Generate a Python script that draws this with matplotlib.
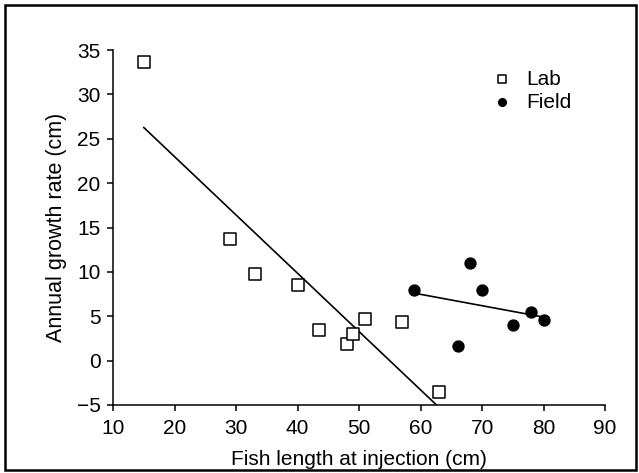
import numpy as np
import matplotlib.pyplot as plt
from matplotlib.patches import Rectangle

plt.rcParams['font.family'] = ['Liberation Sans', 'DejaVu Sans']

lab_x = [15, 29, 33, 40, 43.5, 48, 49, 51, 57, 63]
lab_y = [33.7, 13.7, 9.8, 8.5, 3.5, 1.9, 3.0, 4.7, 4.3, -3.5]
field_x = [59, 66, 68, 70, 75, 78, 80]
field_y = [7.9, 1.6, 11.0, 7.9, 4.0, 5.5, 4.6]

x_ticks = [10, 20, 30, 40, 50, 60, 70, 80, 90]
y_ticks = [-5, 0, 5, 10, 15, 20, 25, 30, 35]

fig = plt.figure(figsize=(6.39, 4.73), dpi=100)
ax = fig.add_axes([0.177, 0.144, 0.770, 0.750])

# regression lines
b_lab = np.polyfit(lab_x, lab_y, 1)
lx = np.array([min(lab_x), (-5 - b_lab[1]) / b_lab[0]])
ax.plot(lx, np.polyval(b_lab, lx), color='black', lw=1.2, zorder=1)

b_f = np.polyfit(field_x, field_y, 1)
fx = np.array([min(field_x), max(field_x)])
ax.plot(fx, np.polyval(b_f, fx), color='black', lw=1.2, zorder=1)

ax.scatter(lab_x, lab_y, marker='s', s=78, facecolors='white',
           edgecolors='black', linewidths=1.1, label='Lab', zorder=3)
ax.scatter(field_x, field_y, marker='o', s=62, color='black',
           label='Field', zorder=3)

ax.set_xlim(10, 90)
ax.set_ylim(-5, 35)
ax.set_xticks(x_ticks)
ax.set_yticks(y_ticks)
ax.set_yticklabels([str(t).replace('-', '\u2212') for t in y_ticks])
ax.tick_params(direction='out', length=4, width=1.1, labelsize=15)
ax.tick_params(axis='x', pad=6)
ax.tick_params(axis='y', pad=5)
for s in ['top', 'right']:
    ax.spines[s].set_visible(False)
for s in ['left', 'bottom']:
    ax.spines[s].set_linewidth(1.1)

ax.set_xlabel('Fish length at injection (cm)', fontsize=15, labelpad=9)
ax.set_ylabel('Annual growth rate (cm)', fontsize=15.5, labelpad=7)

leg = ax.legend(loc='upper left', bbox_to_anchor=(0.748, 0.945), frameon=False,
                fontsize=15, handletextpad=0.15, labelspacing=0.2,
                markerscale=0.7, borderaxespad=0, borderpad=0)

fig.patches.append(Rectangle((0.008, 0.006), 0.988, 0.984, transform=fig.transFigure,
                             fill=False, edgecolor='black', lw=1.8))

fig.savefig('out.png', dpi=100)
